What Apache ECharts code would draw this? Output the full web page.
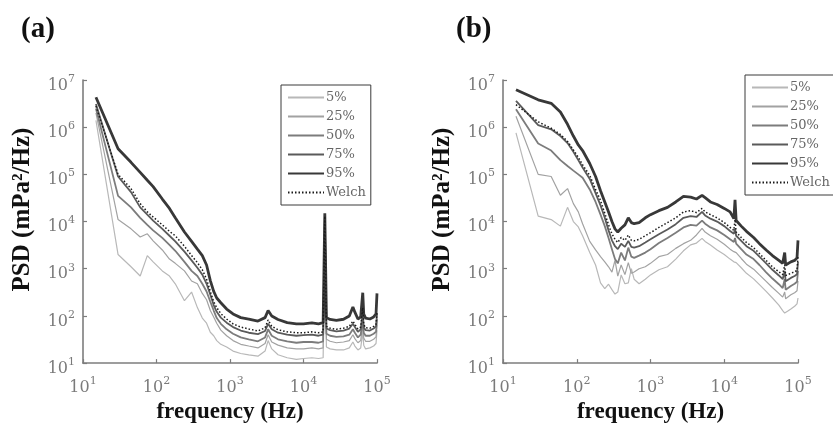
<!DOCTYPE html>
<html>
<head>
<meta charset="utf-8">
<script src="https://cdn.jsdelivr.net/npm/echarts@6/dist/echarts.min.js"></script>
<style>
html,body{margin:0;padding:0;background:#fff}
#chart{width:833px;height:429px}
</style>
</head>
<body>
<div id="chart"></div>
<script>
// Percentile PSD estimates (mPa^2/Hz) against frequency (Hz), two recordings.
const LEVELS = ['5%', '25%', '50%', '75%', '95%', 'Welch'];
const PANEL_TITLES = ['(a)', '(b)'];
const X_NAME = 'frequency (Hz)';
const Y_NAME = 'PSD (mPa\u00b2/Hz)';

// ---- panel (a) ----
const FREQ_A = [15, 30, 45, 60, 75, 90, 120, 150, 180, 240, 300, 360, 420, 480, 540, 600, 660, 750, 900, 1100,
  1400, 1800, 2400, 3000, 3300, 3700, 4500, 6000, 8000, 10000, 13000, 16000, 18500, 19500, 20500, 23000, 28000,
  35000, 42000, 47000, 50000, 55000, 60000, 64000, 66000, 70000, 80000, 90000, 97000, 100000];
const A_P5 = [1.4e6, 2.0e3, 1.1e3, 700, 1.9e3, 1.4e3, 900, 700, 480, 210, 320, 150, 90, 70, 45, 38, 30, 25, 22, 18,
  16, 15, 14, 18, 30, 20, 15, 13, 12, 12.5, 13, 12.5, 13, 5.0e3, 22, 20, 19, 19, 21, 28, 23, 19, 21, 45, 24, 20,
  21, 23, 26, 50];
const A_P25 = [2.0e6, 1.1e4, 7.0e3, 4.7e3, 5.5e3, 3.9e3, 2.5e3, 1.6e3, 1.3e3, 900, 550, 480, 300, 220, 130, 95, 70,
  50, 38, 30, 25, 23, 21, 26, 40, 28, 24, 21, 20, 20, 21, 20, 21, 8.0e3, 32, 29, 27, 28, 30, 40, 33, 27, 30, 65,
  34, 29, 29, 32, 36, 65];
const A_P50 = [2.5e6, 3.5e4, 2.0e4, 1.2e4, 8.5e3, 6.5e3, 4.5e3, 3.2e3, 2.4e3, 1.4e3, 900, 700, 480, 330, 200, 130,
  90, 68, 52, 42, 35, 32, 29, 35, 52, 38, 32, 29, 27, 28, 28, 27, 29, 1.0e4, 42, 38, 36, 37, 40, 52, 44, 35, 40,
  85, 44, 38, 38, 42, 46, 85];
const A_P75 = [3.1e6, 9.0e4, 4.2e4, 2.0e4, 1.4e4, 1.05e4, 7.0e3, 5.0e3, 3.8e3, 2.3e3, 1.5e3, 1.05e3, 750, 480, 280,
  170, 122, 92, 72, 58, 49, 44, 41, 48, 68, 52, 44, 40, 38, 39, 40, 38, 40, 1.2e4, 54, 50, 47, 49, 54, 68, 58, 46,
  52, 120, 57, 50, 49, 54, 60, 110];
const A_P95 = [4.3e6, 3.5e5, 1.8e5, 1.1e5, 7.5e4, 5.5e4, 3.0e4, 1.9e4, 1.2e4, 6.0e3, 3.8e3, 2.6e3, 1.9e3, 1.2e3, 560,
  330, 240, 190, 140, 110, 92, 86, 78, 92, 130, 100, 84, 72, 68, 68, 71, 68, 72, 1.5e4, 92, 84, 80, 85, 100, 155,
  120, 86, 95, 310, 110, 90, 86, 95, 110, 300];
const A_WELCH = [2.8e6, 1.0e5, 5.0e4, 2.4e4, 1.6e4, 1.25e4, 8.5e3, 6.2e3, 5.0e3, 3.0e3, 1.9e3, 1.35e3, 950, 600,
  330, 200, 150, 112, 86, 68, 58, 53, 48, 56, 82, 60, 51, 46, 44, 44, 46, 44, 46, 1.3e4, 60, 55, 52, 55, 60, 78,
  66, 53, 58, 150, 66, 56, 55, 60, 66, 120];

// ---- panel (b) ----
const FREQ_B = [15, 30, 45, 60, 75, 90, 105, 120, 150, 180, 210, 240, 270, 300, 330, 360, 400, 450, 500, 550, 600,
  700, 850, 1000, 1300, 1700, 2200, 2800, 3500, 4200, 5000, 5500, 6500, 8000, 10000, 12000, 13500, 14000, 14500,
  17000, 20000, 25000, 30000, 37000, 45000, 55000, 62000, 66000, 68000, 72000, 80000, 90000, 97000, 100000];
const B_P5 = [7.6e5, 1.3e4, 1.1e4, 8.0e3, 2.0e4, 1.0e4, 7.7e3, 5.0e3, 2.2e3, 1.2e3, 500, 380, 470, 360, 290, 320,
  740, 480, 500, 1.0e3, 600, 480, 600, 740, 950, 1.1e3, 1.6e3, 2.4e3, 3.2e3, 3.5e3, 4.4e3, 3.8e3, 3.2e3, 2.5e3,
  2.0e3, 1.6e3, 1.4e3, 1.5e3, 1.35e3, 1.05e3, 800, 610, 460, 330, 240, 170, 130, 115, 110, 125, 140, 160, 180, 240];
const B_P25 = [1.7e6, 1.0e5, 9.0e4, 3.6e4, 5.0e4, 2.4e4, 1.6e4, 9.0e3, 3.8e3, 2.5e3, 1.8e3, 1.4e3, 1.1e3, 850,
  1.5e3, 700, 1.2e3, 750, 1.35e3, 800, 850, 1.0e3, 1.1e3, 1.3e3, 1.8e3, 2.0e3, 2.7e3, 3.4e3, 4.0e3, 5.2e3, 7.2e3,
  6.0e3, 5.0e3, 4.2e3, 3.3e3, 2.6e3, 2.3e3, 2.5e3, 2.2e3, 1.65e3, 1.25e3, 980, 740, 540, 400, 300, 250, 320, 230,
  250, 280, 310, 340, 550];
const B_P50 = [2.4e6, 4.5e5, 3.2e5, 2.0e5, 1.5e5, 1.2e5, 1.0e5, 8.5e4, 4.8e4, 2.6e4, 1.4e4, 8.0e3, 4.5e3, 2.6e3,
  1.6e3, 1.3e3, 2.2e3, 1.5e3, 2.8e3, 1.8e3, 1.7e3, 1.9e3, 2.2e3, 2.6e3, 3.5e3, 4.5e3, 5.8e3, 7.5e3, 8.5e3, 8.2e3,
  1.05e4, 9.0e3, 7.5e3, 6.5e3, 5.2e3, 4.2e3, 3.7e3, 4.5e3, 3.4e3, 2.6e3, 2.0e3, 1.6e3, 1.2e3, 840, 620, 470, 390,
  600, 360, 390, 430, 480, 530, 900];
const B_P75 = [3.6e6, 1.1e6, 9.0e5, 6.5e5, 4.6e5, 3.0e5, 2.0e5, 1.4e5, 8.0e4, 4.0e4, 2.2e4, 1.2e4, 6.5e3, 4.0e3,
  3.0e3, 2.6e3, 3.4e3, 2.9e3, 3.9e3, 2.9e3, 2.8e3, 3.0e3, 3.6e3, 4.2e3, 5.4e3, 6.8e3, 8.8e3, 1.2e4, 1.3e4, 1.25e4,
  1.6e4, 1.35e4, 1.15e4, 1.0e4, 8.0e3, 6.3e3, 5.5e3, 7.0e3, 5.0e3, 3.9e3, 3.0e3, 2.4e3, 1.8e3, 1.3e3, 950, 720,
  600, 900, 540, 580, 640, 700, 760, 1.4e3];
const B_P95 = [6.2e6, 3.8e6, 3.2e6, 2.1e6, 1.15e6, 6.5e5, 4.2e5, 3.2e5, 1.7e5, 9.0e4, 4.5e4, 2.6e4, 1.6e4, 1.0e4,
  7.0e3, 6.0e3, 7.2e3, 8.5e3, 1.2e4, 9.5e3, 9.0e3, 9.5e3, 1.2e4, 1.4e4, 1.7e4, 2.0e4, 2.6e4, 3.4e4, 3.3e4, 3.0e4,
  3.6e4, 3.2e4, 2.6e4, 2.3e4, 1.9e4, 1.6e4, 1.15e4, 2.9e4, 1.05e4, 8.0e3, 6.2e3, 4.6e3, 3.4e3, 2.5e3, 1.9e3,
  1.5e3, 1.3e3, 2.2e3, 1.2e3, 1.3e3, 1.4e3, 1.5e3, 1.7e3, 4.0e3];
const B_WELCH = [3.0e6, 1.3e6, 9.5e5, 7.0e5, 5.0e5, 3.3e5, 2.3e5, 1.6e5, 9.5e4, 4.8e4, 2.8e4, 1.5e4, 8.5e3, 5.5e3,
  4.2e3, 3.6e3, 4.6e3, 4.0e3, 5.2e3, 4.0e3, 3.9e3, 4.2e3, 5.0e3, 5.8e3, 7.5e3, 9.5e3, 1.2e4, 1.6e4, 1.7e4, 1.55e4,
  1.9e4, 1.6e4, 1.4e4, 1.2e4, 9.5e3, 7.5e3, 6.5e3, 1.1e4, 6.0e3, 4.6e3, 3.6e3, 2.8e3, 2.1e3, 1.5e3, 1.1e3, 860,
  750, 1.2e3, 720, 740, 800, 860, 920, 1.8e3];

const PANELS = [
  { freq: FREQ_A, values: [A_P5, A_P25, A_P50, A_P75, A_P95, A_WELCH] },
  { freq: FREQ_B, values: [B_P5, B_P25, B_P50, B_P75, B_P95, B_WELCH] }
];

// Line appearance for each curve, in LEVELS order
const LINE_STYLES = [
  { color: '#b8b8b8', width: 1.2, type: 'solid' },
  { color: '#a2a2a2', width: 1.2, type: 'solid' },
  { color: '#7c7c7c', width: 1.8, type: 'solid' },
  { color: '#5a5a5a', width: 1.8, type: 'solid' },
  { color: '#383838', width: 2.8, type: 'solid' },
  { color: '#1a1a1a', width: 1.5, type: [1.5, 2] }
];

const SERIF = 'Liberation Serif';
const TICK_FONT = 'DejaVu Serif';
const TICK_COLOR = '#7a7a7a';
const AXIS_COLOR = '#7d7d7d';

const GRIDS = [
  { left: 83, top: 80, width: 294, height: 294 },
  { left: 503, top: 80, width: 295, height: 295 }
];

function decadeLabel(v) {
  const e = Math.round(Math.log10(v));
  return '{b|10}{s|' + e + '}';
}
const tickRich = {
  b: { fontFamily: TICK_FONT, fontSize: 16, color: TICK_COLOR, lineHeight: 20, verticalAlign: 'bottom' },
  s: { fontFamily: TICK_FONT, fontSize: 11, color: TICK_COLOR, lineHeight: 11, verticalAlign: 'top' }
};

function axisBase(min, max, idx) {
  return {
    type: 'log', logBase: 10, min: min, max: max, interval: 1, gridIndex: idx,
    axisLine: { show: true, onZero: false, lineStyle: { color: AXIS_COLOR, width: 1.6 } },
    axisTick: { show: true, inside: true, length: 4, lineStyle: { color: AXIS_COLOR, width: 1.2 } },
    splitLine: { show: false }
  };
}

const xAxes = GRIDS.map((g, i) => Object.assign(axisBase(10, 1e5, i), {
  name: X_NAME, nameLocation: 'middle', nameGap: 29,
  nameTextStyle: { fontFamily: SERIF, fontWeight: 'bold', fontSize: 23, color: '#111' },
  axisLabel: { formatter: decadeLabel, rich: tickRich, margin: 13 }
}));
const yAxes = GRIDS.map((g, i) => Object.assign(axisBase(10, 1e7, i), {
  name: Y_NAME, nameLocation: 'middle', nameGap: 48, nameRotate: 90,
  nameTextStyle: { fontFamily: SERIF, fontWeight: 'bold', fontSize: 25, color: '#111', padding: [0, 0, 0, 24] },
  axisLabel: { formatter: decadeLabel, rich: tickRich, margin: 8, padding: [7, 0, 0, 0] }
}));

const series = [];
PANELS.forEach((panel, p) => {
  LEVELS.forEach((name, k) => {
    const st = LINE_STYLES[k];
    series.push({
      type: 'line', name: name, xAxisIndex: p, yAxisIndex: p,
      data: panel.freq.map((f, i) => [f, panel.values[k][i]]),
      symbol: 'none', silent: true, z: 2 + k,
      lineStyle: { color: st.color, width: st.width, type: st.type },
      itemStyle: { color: st.color }
    });
  });
});

// Boxed key: line sample only, no marker
function legendAt(left, top) {
  return {
    data: LEVELS, orient: 'vertical', left: left, top: top, selectedMode: false,
    backgroundColor: '#fff', borderColor: '#3a3a3a', borderWidth: 1,
    padding: [6, 5, 6, 6], itemGap: 6, itemWidth: 36, itemHeight: 14,
    itemStyle: { color: 'rgba(0,0,0,0)', borderWidth: 0, opacity: 0 },
    textStyle: { fontFamily: TICK_FONT, fontSize: 13, color: '#666', padding: [0, 0, 0, -3] }
  };
}

const option = {
  backgroundColor: '#fff',
  animation: false,
  title: [
    { text: PANEL_TITLES[0], left: 16, top: 10, textStyle: { fontFamily: SERIF, fontWeight: 'bold', fontSize: 29, color: '#111' } },
    { text: PANEL_TITLES[1], left: 451, top: 10, textStyle: { fontFamily: SERIF, fontWeight: 'bold', fontSize: 29, color: '#111' } }
  ],
  grid: GRIDS.map(g => Object.assign({ containLabel: false }, g)),
  xAxis: xAxes,
  yAxis: yAxes,
  legend: [legendAt(281, 85), legendAt(745, 75)],
  series: series
};

const chart = echarts.init(document.getElementById('chart'), null, { renderer: 'canvas' });
chart.setOption(option);
</script>
</body>
</html>
